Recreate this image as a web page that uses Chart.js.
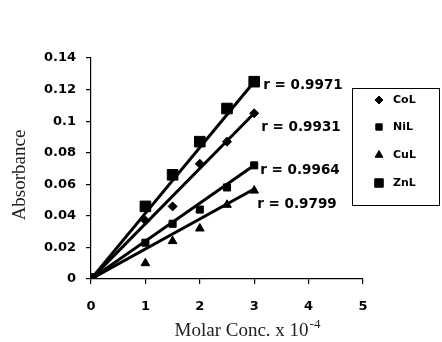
<!DOCTYPE html>
<html>
<head>
<meta charset="utf-8">
<script src="https://cdn.jsdelivr.net/npm/chart.js@4/dist/chart.umd.min.js"></script>
<style>
  html, body { margin: 0; padding: 0; background: #fff; }
  #wrap { width: 442px; height: 342px; }
</style>
</head>
<body>
<div id="wrap"><canvas id="absChart" width="442" height="342"></canvas></div>
<script>
// data
const concentration = [0, 1, 1.5, 2, 2.5, 3];
const seriesNames = ["CoL", "NiL", "CuL", "ZnL"];
const colAbs = [0, 0.037, 0.046, 0.073, 0.087, 0.105];
const nilAbs = [0, 0.023, 0.035, 0.044, 0.058, 0.072];
const culAbs = [0, 0.010, 0.024, 0.032, 0.047, 0.056];
const znlAbs = [0, 0.046, 0.066, 0.087, 0.108, 0.125];

// fitted lines (start / end at the measured range)
const fitX = [0, 3];
const colFit = [0, 0.105];
const nilFit = [0, 0.072];
const culFit = [0, 0.057];
const znlFit = [0, 0.125];
const rValues = ["0.9931", "0.9964", "0.9799", "0.9971"];

const xTicks = [0, 1, 2, 3, 4, 5];
const yTicks = [0, 0.02, 0.04, 0.06, 0.08, 0.1, 0.12, 0.14];

const toPoints = (xs, ys) => xs.map((x, i) => ({ x: x, y: ys[i] }));

// marker look per series
const markers = [
  { style: "rectRot", radius: 4.5, legendRadius: 4 },
  { style: "rect", radius: 5, legendRadius: 4.5 },
  { style: "triangle", radius: 5, legendRadius: 4.5 },
  { style: "rect", radius: 7.5, legendRadius: 6 },
];
const rLabelOffset = [
  { dx: 7, dy: 14 },
  { dx: 6, dy: 5 },
  { dx: 3, dy: 15 },
  { dx: 9, dy: 4 },
];

const measured = [colAbs, nilAbs, culAbs, znlAbs];
const fits = [colFit, nilFit, culFit, znlFit];

const datasets = [];
fits.forEach((f, i) => {
  datasets.push({
    label: seriesNames[i] + " fit",
    data: toPoints(fitX, f),
    showLine: true,
    borderColor: "#000",
    borderWidth: 3,
    pointRadius: 0,
    fill: false,
  });
});
measured.forEach((m, i) => {
  datasets.push({
    label: seriesNames[i],
    data: toPoints(concentration, m),
    showLine: false,
    pointStyle: markers[i].style,
    pointRadius: markers[i].radius,
    backgroundColor: "#000",
    borderColor: "#000",
    borderWidth: 1,
  });
});

const extras = {
  id: "extras",
  afterDraw(chart) {
    const ctx = chart.ctx;
    const xs = chart.scales.x;
    const ys = chart.scales.y;
    ctx.save();
    ctx.fillStyle = "#000";
    ctx.strokeStyle = "#000";

    // r labels next to the line ends
    ctx.font = "bold 13.5px 'DejaVu Sans'";
    ctx.textAlign = "left";
    ctx.textBaseline = "middle";
    fits.forEach((f, i) => {
      const px = xs.getPixelForValue(fitX[1]) + rLabelOffset[i].dx;
      const py = ys.getPixelForValue(f[1]) + rLabelOffset[i].dy;
      ctx.fillText("r = " + rValues[i], px, py);
    });

    // legend box
    ctx.lineWidth = 1;
    ctx.strokeRect(352.5, 88.5, 87, 117);
    const rows = [100, 127, 155, 183];
    ctx.font = "bold 11px 'DejaVu Sans'";
    seriesNames.forEach((name, i) => {
      Chart.helpers.drawPoint(ctx, {
        pointStyle: markers[i].style,
        radius: markers[i].legendRadius,
        rotation: 0,
        borderWidth: 1,
      }, 379, rows[i]);
      ctx.fillText(name, 393, rows[i]);
    });

    // axis titles
    ctx.fillStyle = "#222";
    ctx.font = "19px 'Liberation Serif'";
    ctx.textAlign = "left";
    ctx.textBaseline = "alphabetic";
    const main = "Molar Conc. x 10";
    const w = ctx.measureText(main).width;
    ctx.font = "13px 'Liberation Serif'";
    const sup = "-4";
    const ws = ctx.measureText(sup).width;
    const startX = 247 - (w + ws) / 2;
    ctx.font = "19px 'Liberation Serif'";
    ctx.fillText(main, startX, 336);
    ctx.font = "13px 'Liberation Serif'";
    ctx.fillText(sup, startX + w + 1, 328);

    ctx.translate(25, 175);
    ctx.rotate(-Math.PI / 2);
    ctx.font = "19px 'Liberation Serif'";
    ctx.textAlign = "center";
    ctx.fillText("Absorbance", 0, 0);
    ctx.restore();
  },
};

const tickFont = { family: "DejaVu Sans", size: 13, weight: "bold" };

new Chart(document.getElementById("absChart"), {
  type: "scatter",
  data: { datasets: datasets },
  options: {
    responsive: false,
    animation: false,
    layout: { padding: { top: 58, right: 79, bottom: 0, left: 0 } },
    plugins: {
      legend: { display: false },
      tooltip: { enabled: false },
    },
    scales: {
      x: {
        type: "linear",
        min: 0,
        max: 5,
        afterBuildTicks: (s) => { s.ticks = xTicks.map((v) => ({ value: v })); },
        afterFit: (s) => { s.height = 63; },
        ticks: { color: "#000", font: tickFont, padding: 15 },
        grid: { drawOnChartArea: false, tickLength: 5, color: "#000", lineWidth: 1.2 },
        border: { color: "#000", width: 1.2 },
      },
      y: {
        type: "linear",
        min: 0,
        max: 0.14,
        afterBuildTicks: (s) => { s.ticks = yTicks.map((v) => ({ value: v })); },
        afterFit: (s) => { s.width = 91; },
        ticks: {
          color: "#000",
          font: tickFont,
          padding: 10,
          callback: (v) => String(parseFloat(Number(v).toFixed(2))),
        },
        grid: { drawOnChartArea: false, tickLength: 5, color: "#000", lineWidth: 1.2 },
        border: { color: "#000", width: 1.2 },
      },
    },
  },
  plugins: [extras],
});
</script>
</body>
</html>
